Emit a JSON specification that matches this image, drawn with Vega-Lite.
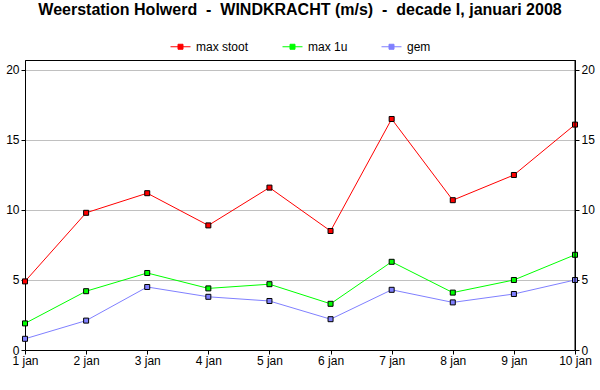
{
  "$schema": "https://vega.github.io/schema/vega-lite/v6.json",
  "width": 550,
  "height": 290,
  "autosize": {"type": "none"},
  "padding": {"left": 25, "top": 60, "right": 25, "bottom": 40},
  "background": "white",
  "config": {
    "font": "Liberation Sans",
    "view": {"stroke": "black", "strokeWidth": 1}
  },
  "title": {
    "text": "Weerstation Holwerd \u00a0- \u00a0WINDKRACHT (m/s) \u00a0- \u00a0decade I, januari 2008",
    "font": "Liberation Sans",
    "fontSize": 16,
    "fontWeight": "bold",
    "color": "black",
    "anchor": "middle",
    "offset": 18
  },
  "data": {
    "values": [
      {"dag": "1 jan", "serie": "max stoot", "waarde": 4.9},
      {"dag": "2 jan", "serie": "max stoot", "waarde": 9.8},
      {"dag": "3 jan", "serie": "max stoot", "waarde": 11.2},
      {"dag": "4 jan", "serie": "max stoot", "waarde": 8.9},
      {"dag": "5 jan", "serie": "max stoot", "waarde": 11.6},
      {"dag": "6 jan", "serie": "max stoot", "waarde": 8.5},
      {"dag": "7 jan", "serie": "max stoot", "waarde": 16.5},
      {"dag": "8 jan", "serie": "max stoot", "waarde": 10.7},
      {"dag": "9 jan", "serie": "max stoot", "waarde": 12.5},
      {"dag": "10 jan", "serie": "max stoot", "waarde": 16.1},
      {"dag": "1 jan", "serie": "max 1u", "waarde": 1.9},
      {"dag": "2 jan", "serie": "max 1u", "waarde": 4.2},
      {"dag": "3 jan", "serie": "max 1u", "waarde": 5.5},
      {"dag": "4 jan", "serie": "max 1u", "waarde": 4.4},
      {"dag": "5 jan", "serie": "max 1u", "waarde": 4.7},
      {"dag": "6 jan", "serie": "max 1u", "waarde": 3.3},
      {"dag": "7 jan", "serie": "max 1u", "waarde": 6.3},
      {"dag": "8 jan", "serie": "max 1u", "waarde": 4.1},
      {"dag": "9 jan", "serie": "max 1u", "waarde": 5.0},
      {"dag": "10 jan", "serie": "max 1u", "waarde": 6.8},
      {"dag": "1 jan", "serie": "gem", "waarde": 0.8},
      {"dag": "2 jan", "serie": "gem", "waarde": 2.1},
      {"dag": "3 jan", "serie": "gem", "waarde": 4.5},
      {"dag": "4 jan", "serie": "gem", "waarde": 3.8},
      {"dag": "5 jan", "serie": "gem", "waarde": 3.5},
      {"dag": "6 jan", "serie": "gem", "waarde": 2.2},
      {"dag": "7 jan", "serie": "gem", "waarde": 4.3},
      {"dag": "8 jan", "serie": "gem", "waarde": 3.4},
      {"dag": "9 jan", "serie": "gem", "waarde": 4.0},
      {"dag": "10 jan", "serie": "gem", "waarde": 5.0}
    ]
  },
  "encoding": {
    "x": {
      "field": "dag",
      "type": "ordinal",
      "sort": null,
      "scale": {"type": "point", "padding": 0},
      "axis": {
        "title": null,
        "labelAngle": 0,
        "labelFontSize": 12,
        "labelColor": "black",
        "labelFont": "Liberation Sans",
        "domainColor": "black",
        "tickColor": "black",
        "tickSize": 4,
        "labelPadding": 1,
        "grid": false
      }
    },
    "y": {
      "field": "waarde",
      "type": "quantitative",
      "scale": {"domain": [0, 20.714], "nice": false, "zero": true},
      "axis": {
        "title": null,
        "values": [0, 5, 10, 15, 20],
        "labelFontSize": 12,
        "labelColor": "black",
        "labelFont": "Liberation Sans",
        "domainColor": "black",
        "tickColor": "black",
        "tickSize": 4,
        "labelPadding": 2,
        "grid": true,
        "gridColor": "#c0c0c0",
        "gridWidth": 1
      }
    },
    "color": {
      "field": "serie",
      "type": "nominal",
      "sort": ["max stoot", "max 1u", "gem"],
      "scale": {"domain": ["max stoot", "max 1u", "gem"], "range": ["#ff0000", "#00ff00", "#8080ff"]},
      "legend": {
        "title": null,
        "orient": "none",
        "direction": "horizontal",
        "legendX": 145,
        "legendY": -24,
        "labelFontSize": 12,
        "labelFont": "Liberation Sans",
        "labelColor": "black",
        "symbolType": "M-1,0H1M-0.25,-0.25H0.25V0.25H-0.25Z",
        "symbolSize": 400,
        "symbolStrokeWidth": 1,
        "columnPadding": 31,
        "labelOffset": 5
      }
    }
  },
  "layer": [
    {"mark": {"type": "line", "strokeWidth": 1}},
    {"mark": {"type": "point", "shape": "square", "filled": true, "size": 25, "stroke": "black", "strokeWidth": 1, "opacity": 1}},
    {
      "data": {"values": [{"a": 1}]},
      "mark": {"type": "rule", "color": "black", "strokeWidth": 1},
      "encoding": {"x": {"value": 550}, "y": {"value": 0}, "y2": {"value": 290}, "color": null}
    }
  ],
  "resolve": {"axis": {"y": "independent"}}
}
